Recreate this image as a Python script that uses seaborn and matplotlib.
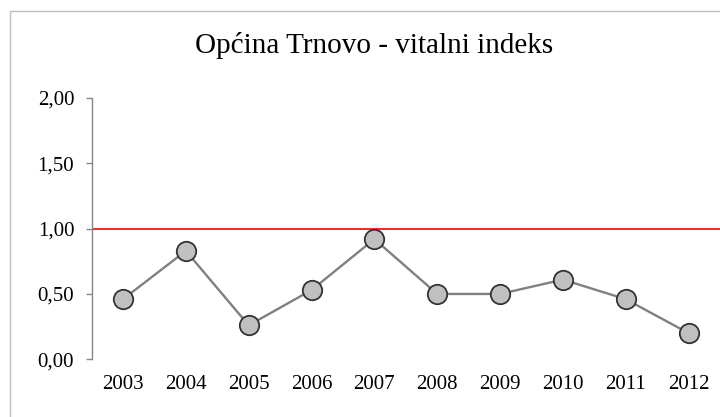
import numpy as np
import pandas as pd
import matplotlib
matplotlib.use('Agg')
import matplotlib.pyplot as plt
import seaborn as sns
from matplotlib.ticker import FuncFormatter
from matplotlib.patches import Rectangle

# podaci - vitalni indeks po godinama
godine = ['2003', '2004', '2005', '2006', '2007', '2008', '2009', '2010', '2011', '2012']
vitalni_indeks = [0.46, 0.83, 0.26, 0.53, 0.92, 0.50, 0.50, 0.61, 0.46, 0.20]
naslov = 'Općina Trnovo - vitalni indeks'
y_ticks = [0.0, 0.5, 1.0, 1.5, 2.0]

df = pd.DataFrame({'godina': godine, 'indeks': vitalni_indeks})

sns.set_style('white')
plt.rcParams['font.family'] = ['Liberation Serif', 'DejaVu Serif']

fig = plt.figure(figsize=(7.2, 4.17), dpi=100)
ax = fig.add_axes([0.1272, 0.1384, 0.8728, 0.6266])

sns.lineplot(data=df, x='godina', y='indeks', ax=ax, sort=False,
             color='#808080', linewidth=1.7,
             marker='o', markersize=14,
             markerfacecolor='#c0c0c0', markeredgecolor='#333333',
             markeredgewidth=1.3)

ax.axhline(1.0, color='#ff0000', linewidth=1.2, zorder=1)

ax.set_xlim(-0.5, len(godine) - 0.5)
ax.set_ylim(0, 2)
ax.set_yticks(y_ticks)
ax.yaxis.set_major_formatter(FuncFormatter(lambda v, p: ('%.2f' % v).replace('.', ',')))
ax.set_xlabel('')
ax.set_ylabel('')

for s in ['top', 'right', 'bottom']:
    ax.spines[s].set_visible(False)
ax.spines['left'].set_color('#868686')
ax.spines['left'].set_linewidth(1.0)

ax.tick_params(axis='y', which='both', left=True, length=4.5, width=1.0,
               color='#868686', pad=8, labelsize=15, labelcolor='black')
ax.tick_params(axis='x', length=0, pad=11, labelsize=15, labelcolor='black')

fig.text(0.52, 0.892, naslov, ha='center', va='center', fontsize=21, color='black')

# okvir grafikona
fig.patches.append(Rectangle((10 / 720, -0.05), 1.1, 1.05 - 11 / 417,
                             transform=fig.transFigure, fill=False,
                             edgecolor='#bfbfbf', linewidth=1.0))

plt.savefig('out.png', dpi=100)
